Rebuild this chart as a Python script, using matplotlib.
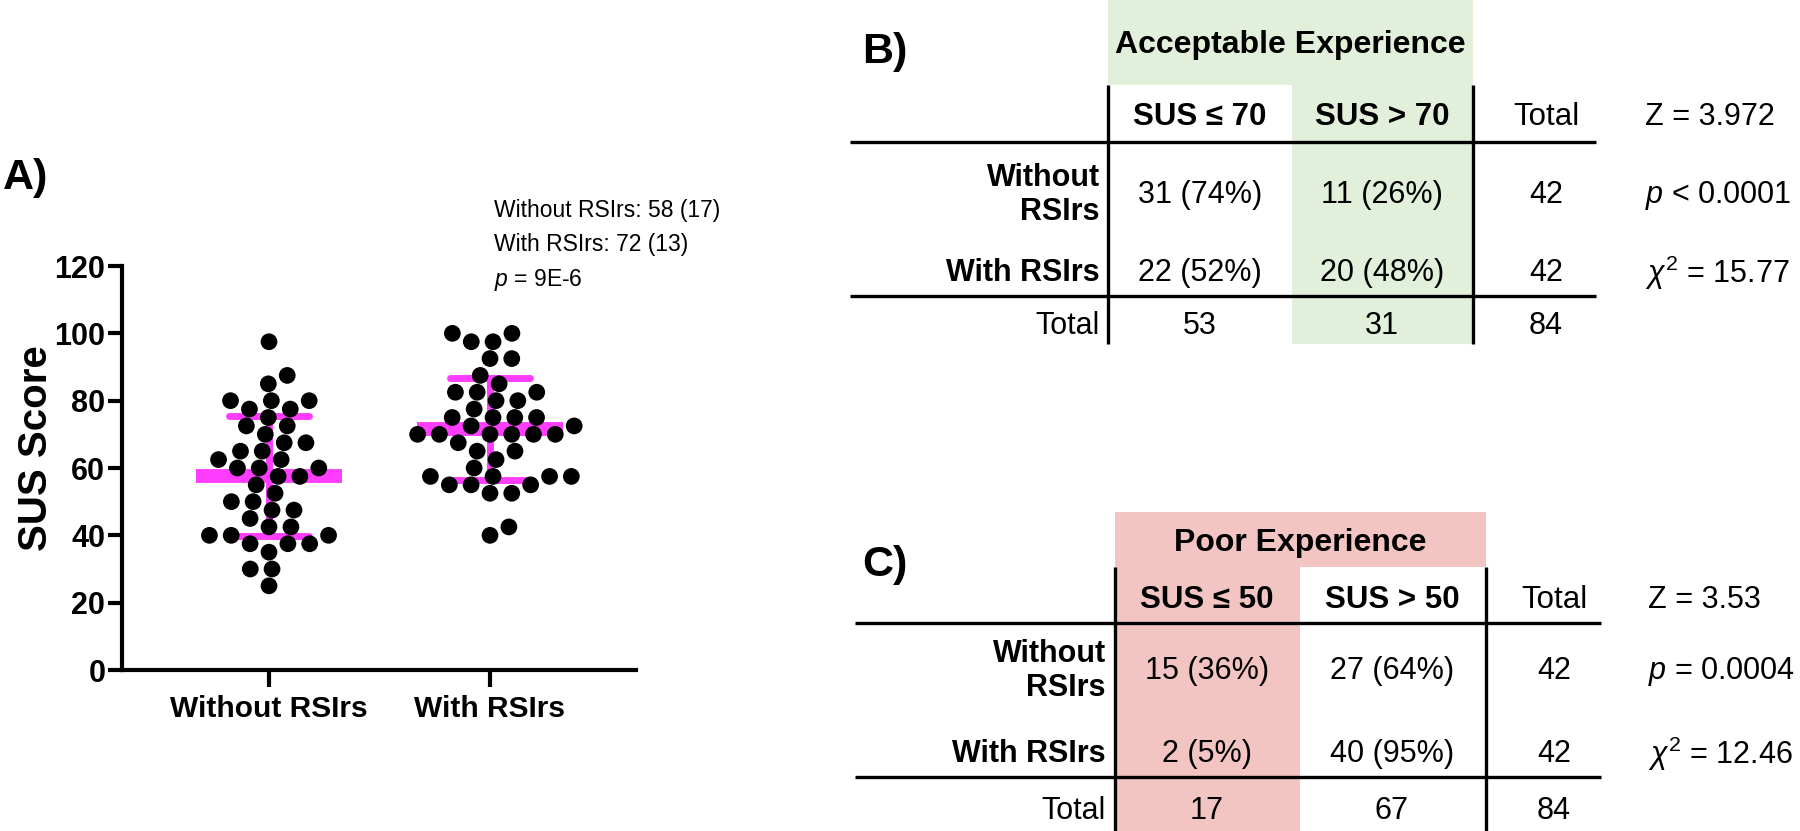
import numpy as np
import matplotlib
matplotlib.use("Agg")
import matplotlib.pyplot as plt
from matplotlib.patches import Rectangle

plt.rcParams["font.family"] = ["Liberation Sans", "DejaVu Sans"]
plt.rcParams["mathtext.fontset"] = "custom"
plt.rcParams["mathtext.rm"] = "Liberation Sans"
plt.rcParams["mathtext.it"] = "Liberation Sans:italic"
plt.rcParams["mathtext.bf"] = "Liberation Sans:bold"

# ---- panel A data (SUS scores) ----
GROUPS = ["Without RSIrs", "With RSIrs"]
WITHOUT_SUS = [80, 65, 60, 47.5, 40,
               80, 75, 70, 65, 55, 50, 42.5, 37.5,
               85, 72.5, 62.5, 57.5, 40, 35, 30,
               97.5, 25,
               87.5, 77.5, 72.5, 67.5, 60, 50, 45, 37.5, 30,
               77.5, 67.5, 62.5, 57.5, 52.5, 47.5, 42.5, 37.5,
               80, 60, 40]
WITH_SUS = [75, 70, 60, 55,
            82.5, 77.5, 72.5,
            100, 87.5, 80, 75, 70, 55,
            97.5, 92.5, 85, 70, 65, 57.5, 52.5, 40,
            97.5, 92.5, 82.5, 72.5, 67.5, 62.5, 57.5, 52.5, 42.5,
            100, 82.5, 75, 70, 65, 57.5,
            80, 70, 57.5,
            75, 70, 55]
SUMMARY = ["Without RSIrs: 58 (17)", "With RSIrs: 72 (13)", "$p$ = 9E-6"]
Y_TICKS = [0, 20, 40, 60, 80, 100, 120]

# ---- panel B / C tables ----
ROW_LABELS = ["Without\nRSIrs", "With RSIrs", "Total"]
B_TITLE = "Acceptable Experience"
B_COLS = ["SUS \u2264 70", "SUS > 70", "Total"]
B_COUNTS = [[31, 11], [22, 20]]
B_STATS = ["Z = 3.972", "$p$ < 0.0001", "$\\chi^2$ = 15.77"]
C_TITLE = "Poor Experience"
C_COLS = ["SUS \u2264 50", "SUS > 50", "Total"]
C_COUNTS = [[15, 27], [2, 40]]
C_STATS = ["Z = 3.53", "$p$ = 0.0004", "$\\chi^2$ = 12.46"]

MAGENTA = "#FF3DFF"
GREEN = "#E2EFDA"
PINK = "#F2C5C3"

W_PX, H_PX = 1800, 831


def swarm(values, diam, yscale, stretch):
    """beeswarm with an elliptical footprint; returns x offsets in pixels"""
    vals = np.asarray(values, float)
    offs = np.zeros(len(vals))
    placed = []
    for i in np.argsort(vals, kind="stable"):
        y = vals[i] * yscale
        cands = [0.0]
        for px, py in placed:
            dy = y - py
            if abs(dy) < diam:
                dx = np.sqrt(diam ** 2 - dy ** 2)
                cands += [px + dx, px - dx]
        cands.sort(key=abs)
        for c in cands:
            if all((c - px) ** 2 + (y - py) ** 2 >= diam ** 2 - 1e-6 for px, py in placed):
                offs[i] = c
                break
        placed.append((offs[i], y))
    return offs * stretch


def draw_table(ax, tag, title, hl_color, cols, counts, stats, hl_col, g):
    x0, x1, x2 = g["vx"]
    hx = g["vx"][hl_col]
    ax.add_patch(Rectangle((x0, g["top"]), x2 - x0, g["hbot"] - g["top"],
                           facecolor=hl_color, edgecolor="none", zorder=0))
    ax.add_patch(Rectangle((hx, g["hbot"]), g["vx"][hl_col + 1] - hx, g["bot"] - g["hbot"],
                           facecolor=hl_color, edgecolor="none", zorder=0))
    ax.text((x0 + x2) / 2, (g["top"] + g["hbot"]) / 2 + 3, title, ha="center", va="center",
            fontsize=23, fontweight="bold")
    ax.text(g["tag"][0], g["tag"][1], tag, ha="center", va="center", fontsize=31, fontweight="bold")
    for x in (x0, x2):
        ax.plot([x, x], [g["hbot"], g["bot"]], color="black", lw=2.4, solid_capstyle="butt")
    for y in g["hl"]:
        ax.plot(g["hx"], [y, y], color="black", lw=2.4, solid_capstyle="butt")
    # header row
    for j, c in enumerate(cols):
        ax.text(g["cx"][j], g["yh"], c, ha="center", va="center", fontsize=22.5,
                fontweight="bold" if j < 2 else "normal")
    # body
    counts = np.asarray(counts)
    row_tot = counts.sum(axis=1)
    col_tot = counts.sum(axis=0)
    for i in range(2):
        ax.text(g["lx"], g["yr"][i], ROW_LABELS[i], ha="right", va="center", fontsize=22,
                fontweight="bold", linespacing=1.15)
        for j in range(2):
            pct = 100 * counts[i, j] / row_tot[i]
            ax.text(g["cx"][j], g["yr"][i], f"{counts[i, j]} ({pct:.0f}%)", ha="center",
                    va="center", fontsize=22)
        ax.text(g["cx"][2], g["yr"][i], f"{row_tot[i]}", ha="center", va="center", fontsize=22)
    ax.text(g["lx"], g["yr"][2], ROW_LABELS[2], ha="right", va="center", fontsize=22)
    for j, v in enumerate(list(col_tot) + [counts.sum()]):
        ax.text(g["cx"][j], g["yr"][2], f"{v}", ha="center", va="center", fontsize=22)
    # stats column
    for s, y in zip(stats, [g["yh"], g["yr"][0], g["yr"][1]]):
        ax.text(g["sx"], y, s, ha="left", va="center", fontsize=22)


fig = plt.figure(figsize=(18, 8.31), dpi=100)

# ---- panel A ----
ax_l, ax_r, ax_t, ax_b = 122, 636, 266, 670
ax = fig.add_axes([ax_l / W_PX, 1 - ax_b / H_PX, (ax_r - ax_l) / W_PX, (ax_b - ax_t) / H_PX])
cx_px = [269, 490]
px_per_x = cx_px[1] - cx_px[0]
xlim = (-(cx_px[0] - ax_l) / px_per_x, (ax_r - cx_px[0]) / px_per_x)
yscale = (ax_b - ax_t) / 120
for k, vals in enumerate([WITHOUT_SUS, WITH_SUS]):
    vals = np.asarray(vals)
    offs = swarm(vals, 17.0, yscale, 1.28) / px_per_x
    m, sd = vals.mean(), vals.std(ddof=1)
    ax.plot([k - 0.33, k + 0.33], [m, m], color=MAGENTA, lw=10, solid_capstyle="butt", zorder=2)
    ax.plot([k, k], [m - sd, m + sd], color=MAGENTA, lw=5, solid_capstyle="butt", zorder=2)
    for y in (m - sd, m + sd):
        ax.plot([k - 0.18, k + 0.18], [y, y], color=MAGENTA, lw=5, solid_capstyle="round", zorder=2)
    ax.scatter(k + offs, vals, s=145, color="black", edgecolors="none", zorder=3, clip_on=False)

ax.set_xlim(*xlim)
ax.set_ylim(0, 120)
ax.set_yticks(Y_TICKS)
ax.set_xticks([0, 1])
ax.set_xticklabels(GROUPS, fontsize=21.5, fontweight="bold")
ax.set_yticklabels([str(t) for t in Y_TICKS], fontsize=22, fontweight="bold")
for s in ("top", "right"):
    ax.spines[s].set_visible(False)
for s in ("left", "bottom"):
    ax.spines[s].set_linewidth(3)
ax.tick_params(axis="y", length=10, width=3, pad=2)
ax.tick_params(axis="x", length=12, width=3, pad=6)

fig.text(36 / W_PX, 1 - 448 / H_PX, "SUS Score", rotation=90, ha="center", va="center",
         fontsize=29, fontweight="bold")
fig.text(26 / W_PX, 1 - 178 / H_PX, "A)", ha="center", va="center", fontsize=31, fontweight="bold")
for i, line in enumerate(SUMMARY):
    fig.text(494 / W_PX, 1 - (210 + 35 * i) / H_PX, line, ha="left", va="center", fontsize=16.5)

# ---- panels B and C (drawn in pixel coordinates) ----
ov = fig.add_axes([0, 0, 1, 1], zorder=-1)
ov.set_xlim(0, W_PX)
ov.set_ylim(H_PX, 0)
ov.axis("off")

geom_b = dict(vx=[1108, 1292, 1473], top=0, hbot=85, bot=344, hl=[142, 296], hx=[850, 1596],
              cx=[1200, 1382, 1546], yh=117, yr=[195, 273, 326], lx=1100, sx=1645, tag=(885, 52))
geom_c = dict(vx=[1115, 1300, 1486], top=512, hbot=567, bot=831, hl=[623, 777], hx=[855, 1601],
              cx=[1207, 1392, 1554], yh=600, yr=[671, 754, 811], lx=1106, sx=1648, tag=(885, 565))
draw_table(ov, "B)", B_TITLE, GREEN, B_COLS, B_COUNTS, B_STATS, 1, geom_b)
draw_table(ov, "C)", C_TITLE, PINK, C_COLS, C_COUNTS, C_STATS, 0, geom_c)

fig.savefig("out.png", dpi=100)
